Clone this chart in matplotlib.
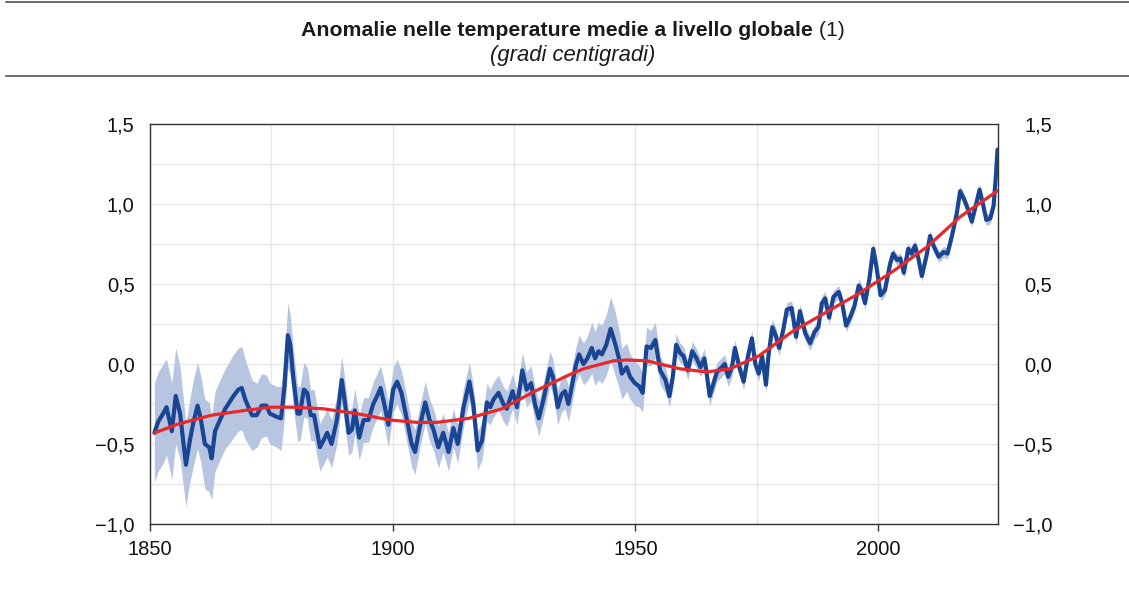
import matplotlib
matplotlib.use("Agg")
import matplotlib.pyplot as plt
from matplotlib.ticker import MultipleLocator, FuncFormatter
from matplotlib.lines import Line2D
import numpy as np

plt.rcParams['font.family'] = ['Liberation Sans', 'DejaVu Sans']

# global temperature anomaly (smoothed)
years = [
    1850.9, 1851.7, 1852.7, 1853.4, 1854.5, 1855.3, 1856.2, 1857.4, 1858.2, 1858.9, 1859.8,
    1860.5, 1861.3, 1862.2, 1862.7, 1863.4, 1864.4, 1865.5, 1867.2, 1868.2, 1868.9, 1869.6,
    1871.0, 1872.0, 1873.0, 1874.0, 1874.7, 1876.1, 1877.0, 1877.7, 1878.4, 1878.9, 1879.5,
    1880.4, 1880.9, 1881.7, 1882.4, 1883.1, 1883.8, 1885.0, 1885.7, 1886.5, 1887.4, 1888.5, 1889.5,
    1890.2, 1890.9, 1891.6, 1892.2, 1893.1, 1894.0, 1895.0, 1896.0, 1896.8, 1897.5, 1898.4, 1899.1,
    1900.1, 1900.9, 1901.8, 1902.8, 1903.9, 1904.6, 1905.6, 1906.7, 1907.6, 1908.4, 1909.4,
    1910.4, 1911.5, 1912.5, 1913.4, 1914.6, 1915.8, 1916.6, 1917.5, 1918.4, 1919.4,
    1920.1, 1920.8, 1921.8, 1922.8, 1923.5, 1924.7, 1925.6, 1926.7, 1927.6, 1928.5, 1929.3,
    1930.1, 1931.0, 1932.4, 1933.0, 1934.0, 1934.8, 1935.5, 1936.2, 1936.9, 1937.7, 1938.4, 1939.3,
    1940.1, 1941.0, 1941.7, 1942.4, 1943.1, 1944.0, 1944.9, 1945.8, 1946.7, 1947.2, 1948.2, 1948.9, 1949.9,
    1950.8, 1951.5, 1952.3, 1953.2, 1954.1, 1955.1, 1956.2, 1957.0, 1957.7, 1958.4, 1959.2, 1959.9,
    1960.8, 1961.7, 1962.6, 1963.4, 1964.2, 1964.6, 1965.3, 1966.1, 1966.8, 1967.8, 1968.4, 1969.1, 1969.9,
    1970.5, 1971.4, 1972.3, 1973.2, 1974.0, 1974.7, 1975.4, 1976.1, 1976.9, 1977.4, 1978.2, 1978.9, 1979.6,
    1980.5, 1981.2, 1982.2, 1983.1, 1983.9, 1985.0, 1986.0, 1986.9, 1987.7, 1988.4, 1989.1, 1989.9,
    1990.8, 1991.9, 1992.6, 1993.4, 1994.2, 1995.1, 1996.0, 1996.6, 1997.3, 1998.2, 1999.0, 1999.7,
    2000.5, 2001.4, 2002.5, 2003.1, 2003.9, 2004.6, 2005.3, 2006.2, 2006.9, 2007.6, 2008.3, 2009.0,
    2010.0, 2010.7, 2011.4, 2012.5, 2013.5, 2014.3, 2015.2, 2016.2, 2016.9, 2017.7, 2018.6, 2019.3,
    2020.2, 2020.9, 2021.6, 2022.3, 2023.1, 2023.8, 2024.3, 2024.6,
]
anomaly = [
    -0.43, -0.36, -0.31, -0.27, -0.42, -0.20, -0.31, -0.63, -0.48, -0.37, -0.26,
    -0.35, -0.50, -0.52, -0.59, -0.42, -0.35, -0.28, -0.20, -0.16, -0.15, -0.22,
    -0.32, -0.32, -0.26, -0.26, -0.31, -0.33, -0.34, -0.14, 0.18, 0.12, -0.08,
    -0.31, -0.31, -0.16, -0.18, -0.32, -0.32, -0.52, -0.48, -0.43, -0.50, -0.35, -0.10,
    -0.25, -0.43, -0.41, -0.29, -0.46, -0.35, -0.35, -0.25, -0.20, -0.15, -0.27, -0.38,
    -0.16, -0.11, -0.18, -0.33, -0.50, -0.55, -0.39, -0.24, -0.35, -0.41, -0.52,
    -0.43, -0.55, -0.40, -0.50, -0.27, -0.11, -0.25, -0.54, -0.48, -0.24,
    -0.27, -0.22, -0.18, -0.25, -0.28, -0.17, -0.27, -0.04, -0.16, -0.12, -0.25,
    -0.34, -0.23, -0.03, -0.08, -0.27, -0.19, -0.17, -0.25, -0.14, -0.01, 0.06, 0.00,
    0.035, 0.10, 0.035, 0.08, 0.06, 0.12, 0.22, 0.13, 0.025, -0.06, -0.02, -0.08, -0.12,
    -0.14, -0.18, 0.11, 0.10, 0.15, -0.04, -0.10, -0.20, -0.08, 0.12, 0.07, 0.05,
    -0.04, 0.08, 0.035, -0.02, 0.035, -0.04, -0.20, -0.12, -0.05, -0.02, 0.00, -0.08, -0.02,
    0.10, -0.02, -0.11, 0.05, 0.16, 0.00, -0.06, 0.05, -0.13, 0.05, 0.23, 0.18, 0.10,
    0.22, 0.34, 0.35, 0.17, 0.33, 0.19, 0.13, 0.20, 0.23, 0.38, 0.41, 0.29,
    0.42, 0.45, 0.38, 0.24, 0.29, 0.36, 0.49, 0.46, 0.38, 0.53, 0.72, 0.60,
    0.43, 0.46, 0.63, 0.69, 0.65, 0.66, 0.57, 0.72, 0.69, 0.74, 0.66, 0.55,
    0.68, 0.80, 0.74, 0.67, 0.70, 0.69, 0.80, 0.94, 1.08, 1.03, 0.96, 0.89,
    1.00, 1.09, 1.00, 0.90, 0.91, 0.99, 1.19, 1.34,
]
# half width of the uncertainty band at each point
uncertainty = [
    0.31, 0.31, 0.31, 0.30, 0.30, 0.30, 0.29, 0.26, 0.26, 0.27, 0.27,
    0.27, 0.28, 0.28, 0.26, 0.25, 0.25, 0.25, 0.26, 0.26, 0.26, 0.25,
    0.22, 0.20, 0.20, 0.19, 0.19, 0.19, 0.20, 0.20, 0.20, 0.19, 0.18,
    0.17, 0.17, 0.17, 0.16, 0.16, 0.16, 0.15, 0.15, 0.15, 0.15, 0.15, 0.15,
    0.14, 0.14, 0.14, 0.14, 0.14, 0.14, 0.14, 0.14, 0.14, 0.14, 0.14, 0.14,
    0.14, 0.14, 0.14, 0.14, 0.14, 0.14, 0.13, 0.13, 0.13, 0.13, 0.13,
    0.12, 0.12, 0.12, 0.12, 0.12, 0.12, 0.12, 0.12, 0.12, 0.12,
    0.11, 0.11, 0.11, 0.11, 0.11, 0.11, 0.11, 0.11, 0.11, 0.11, 0.11,
    0.11, 0.11, 0.11, 0.11, 0.11, 0.11, 0.11, 0.11, 0.11, 0.11, 0.12, 0.13,
    0.14, 0.16, 0.17, 0.18, 0.18, 0.19, 0.20, 0.20, 0.18, 0.16, 0.15, 0.14, 0.14,
    0.13, 0.12, 0.12, 0.11, 0.11, 0.09, 0.08, 0.07, 0.07, 0.07, 0.06, 0.06,
    0.06, 0.06, 0.06, 0.06, 0.06, 0.06, 0.06, 0.06, 0.06, 0.06, 0.06, 0.06, 0.06,
    0.05, 0.05, 0.05, 0.05, 0.05, 0.05, 0.05, 0.05, 0.05, 0.05, 0.05, 0.05, 0.05,
    0.045, 0.045, 0.045, 0.045, 0.045, 0.045, 0.045, 0.045, 0.045, 0.045, 0.045, 0.045,
    0.04, 0.04, 0.04, 0.04, 0.04, 0.04, 0.04, 0.04, 0.04, 0.04, 0.04, 0.04,
    0.035, 0.035, 0.035, 0.035, 0.035, 0.035, 0.035, 0.035, 0.035, 0.035, 0.035, 0.035,
    0.035, 0.035, 0.035, 0.035, 0.035, 0.035, 0.035, 0.035, 0.035, 0.035, 0.035, 0.035,
    0.035, 0.035, 0.035, 0.035, 0.035, 0.035, 0.035, 0.035,
]
# long-run trend (red line)
trend_years = [1851, 1855.8, 1862.7, 1869.6, 1875, 1879.5, 1885.7, 1892.6, 1899.4, 1905,
               1909.1, 1915.6, 1922.5, 1929.3, 1936.2, 1939.3, 1945.5, 1948.2, 1952.3, 1959.2,
               1964.7, 1969.5, 1975.4, 1982.2, 1989.1, 1996, 2003.1, 2010, 2016.9, 2024.5]
trend = [-0.43, -0.375, -0.32, -0.29, -0.27, -0.27, -0.28, -0.31, -0.35, -0.365,
         -0.365, -0.34, -0.28, -0.17, -0.07, -0.03, 0.02, 0.025, 0.02, -0.03,
         -0.05, -0.03, 0.05, 0.20, 0.32, 0.44, 0.58, 0.73, 0.92, 1.08]

title_bold = "Anomalie nelle temperature medie a livello globale"
title_note = " (1)"
subtitle = "(gradi centigradi)"

W, H = 1129, 590
fig = plt.figure(figsize=(W / 100, H / 100), dpi=100)
ax = fig.add_axes([150 / W, 1 - 524 / H, 848 / W, 400 / H])

y = np.array(anomaly)
u = np.array(uncertainty)
ax.fill_between(years, y - u, y + u, color='#b7c5e1', linewidth=0, zorder=2)
ax.plot(years, anomaly, color='#1a4593', linewidth=3.0, solid_joinstyle='round',
        solid_capstyle='round', zorder=3)
ax.plot(trend_years, trend, color='#e8292b', linewidth=2.3, solid_joinstyle='round', zorder=4)

ax.set_xlim(1850, 2024.7)
ax.set_ylim(-1.0, 1.5)
ax.xaxis.set_major_locator(MultipleLocator(50))
ax.xaxis.set_minor_locator(MultipleLocator(25))
ax.yaxis.set_major_locator(MultipleLocator(0.5))
ax.yaxis.set_minor_locator(MultipleLocator(0.25))
ax.grid(True, which='both', color='#e6e6e6', linewidth=1.0, zorder=0)
ax.set_axisbelow(True)

fmt = FuncFormatter(lambda v, p: f"{v:.1f}".replace('.', ',').replace('-', '\u2212'))
ax.yaxis.set_major_formatter(fmt)
ax.tick_params(axis='y', which='both', length=0, pad=11, labelsize=14.5, colors='#111111')
ax.tick_params(axis='x', which='major', length=5, width=1, direction='out', pad=6.5,
               labelsize=14.5, colors='#333333', labelcolor='#111111')
ax.tick_params(axis='x', which='minor', length=0)
for s in ax.spines.values():
    s.set_color('#333333')
    s.set_linewidth(1.0)

ax2 = ax.twinx()
ax2.set_ylim(ax.get_ylim())
ax2.yaxis.set_major_locator(MultipleLocator(0.5))
ax2.yaxis.set_major_formatter(fmt)
ax2.tick_params(axis='y', length=0, pad=39, labelsize=14.5, colors='#111111')
for lab in ax2.get_yticklabels():
    lab.set_horizontalalignment('right')
for s in ax2.spines.values():
    s.set_visible(False)

# title block: bold part + regular note, centred together
cx = 573
t1 = fig.text(0, 1 - 30 / H, title_bold, fontsize=15.3, fontweight='bold',
              ha='left', va='center', color='#1a1a1a')
t2 = fig.text(0, 1 - 30 / H, title_note, fontsize=15.3, ha='left', va='center', color='#1a1a1a')
fig.canvas.draw()
w1 = t1.get_window_extent().width
w2 = t2.get_window_extent().width
x0 = cx - (w1 + w2) / 2
t1.set_x(x0 / W)
t2.set_x((x0 + w1) / W)
fig.text(cx / W, 1 - 55 / H, subtitle, fontsize=15.8, style='italic', ha='center', va='center',
         color='#1a1a1a')

fig.add_artist(Line2D([6 / W, 1], [1 - 1.5 / H, 1 - 1.5 / H], color='#555555', linewidth=1.2))
fig.add_artist(Line2D([6 / W, 1], [1 - 75.5 / H, 1 - 75.5 / H], color='#555555', linewidth=1.2))

fig.savefig('out.png', dpi=100)
